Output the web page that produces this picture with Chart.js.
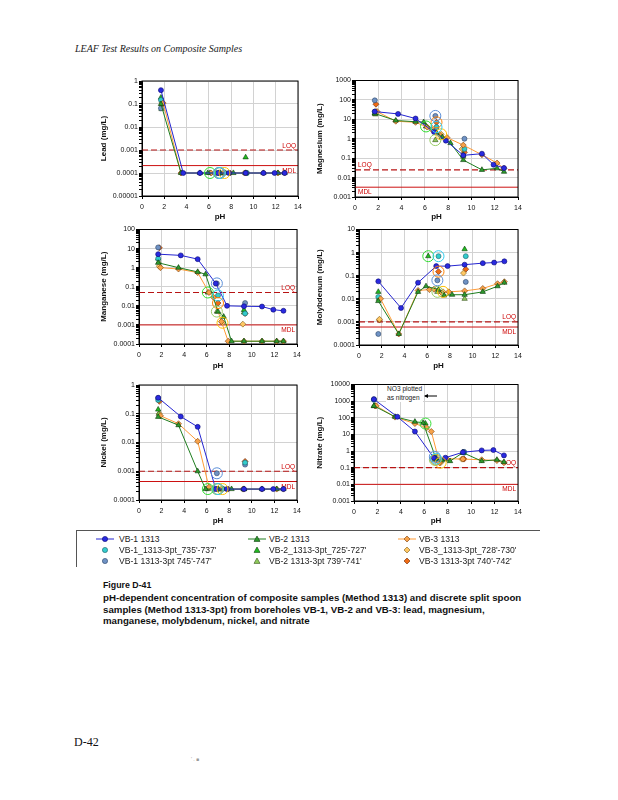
<!DOCTYPE html>
<html>
<head>
<meta charset="utf-8">
<script src="https://cdn.jsdelivr.net/npm/chart.js@4.4.0/dist/chart.umd.min.js"></script>
<style>
  body { margin: 0; background: #fff; width: 618px; height: 800px; position: relative; overflow: hidden; font-family: "Liberation Sans", Arial, sans-serif; }
  canvas { position: absolute; }
  .abs { position: absolute; white-space: nowrap; }
  .header { left: 75px; top: 43px; font: italic 10px "Liberation Serif", serif; color: #222; }
  .legtxt { font-size: 8.6px; line-height: 10px; color: #222; }
  .caption { left: 103px; font-weight: bold; font-size: 9.7px; line-height: 11.6px; color: #111; }
  .footer { left: 74px; top: 735px; font: 12px "Liberation Serif", serif; color: #111; }
  .note { left: 386px; top: 385px; padding: 0 1px; font-size: 6.6px; line-height: 8.5px; color: #222; background: #fff; }
</style>
</head>
<body>
<div class="abs header">LEAF Test Results on Composite Samples</div>

<canvas id="cLead" width="210" height="150" style="left:96px;top:74px"></canvas>
<canvas id="cMg" width="214" height="150" style="left:312px;top:74px"></canvas>
<canvas id="cMn" width="210" height="150" style="left:96px;top:223px"></canvas>
<canvas id="cMo" width="214" height="150" style="left:312px;top:223px"></canvas>
<canvas id="cNi" width="210" height="150" style="left:96px;top:378px"></canvas>
<canvas id="cNo3" width="214" height="150" style="left:312px;top:378px"></canvas>

<div class="abs note">NO3 plotted<br>as nitrogen</div>
<svg class="abs" style="left:423px;top:392px" width="15" height="8">
  <line x1="2" y1="4" x2="14" y2="4" stroke="#000" stroke-width="1"/>
  <polygon points="1,4 5,2 5,6" fill="#000"/>
</svg>

<div class="abs" style="left:76px;top:530px;width:464px;height:0;border-top:1px solid #555"></div>
<div class="abs" style="left:76px;top:530px;width:0;height:37px;border-left:1px solid #555"></div>
<div id="legend"></div>

<div class="abs caption" style="top:580px;font-size:8.8px">Figure D-41</div>
<div class="abs caption" style="top:592px">pH-dependent concentration of composite samples (Method 1313) and discrete split spoon<br>samples (Method 1313-3pt) from boreholes VB-1, VB-2 and VB-3: lead, magnesium,<br>manganese, molybdenum, nickel, and nitrate</div>

<div class="abs footer">D-42</div>
<div class="abs" style="left:191px;top:756px;font-size:5px;color:#999">' . ■</div>

<script>
// pH of each extract (same extracts for every analyte)
const phVB1 = [1.7, 3.7, 5.2, 6.8, 7.8, 9.3, 10.9, 11.9, 12.8];
const phVB2 = [1.7, 3.5, 5.2, 5.9, 7.0, 7.5, 8.2, 9.3, 10.9, 12.2, 12.8];
const phVB3 = [1.9, 3.5, 5.2, 6.2, 6.6, 7.3, 7.9, 9.3, 10.9, 12.2, 12.8];
// 3pt samples: low pH, natural pH, high pH (same order as pointSeries)
const ph3pt = [[1.7, 7.0, 9.4], [1.7, 6.9, 9.4], [1.7, 6.1, 9.3], [1.75, 6.9, 9.3], [1.8, 7.4, 9.2], [1.8, 7.0, 9.4]];

const xTicks = [0, 2, 4, 6, 8, 10, 12, 14];

// Lead
const leadVB1 = [0.4, 0.0001, 0.0001, 0.0001, 0.0001, 0.0001, 0.0001, 0.0001, 0.0001];
const leadVB2 = [0.1, 0.0001, 0.0001, 0.0001, 0.0001, 0.0001, 0.0001, 0.0001, 0.0001, 0.0001, 0.0001];
const leadVB3 = [0.11, 0.0001, 0.0001, 0.0001, 0.0001, 0.0001, 0.0001, 0.0001, 0.0001, 0.0001, 0.0001];
const lead3pt = [[0.15, 0.0001, 0.0001], [0.065, 0.0001, 0.0001], [0.19, 0.0001, 0.00048], [0.06, 0.0001, 0.0001], [0.12, 0.0001, 0.0001], [0.09, 0.0001, 0.0001]];
const leadLimits = [0.001, 0.00021];

// Magnesium
const mgVB1 = [25, 19, 11, 2.2, 0.8, 0.14, 0.17, 0.046, 0.031];
const mgVB2 = [20, 8.7, 7.5, 7.2, 2.0, 1.2, 0.6, 0.08, 0.025, 0.03, 0.02];
const mgVB3 = [25, 8, 7, 4, 3, 1.5, 1.15, 0.47, 0.15, 0.056, 0.03];
const mg3pt = [[25, 4, 0.3], [95, 15, 1.0], [20, 4.3, 0.15], [18, 0.85, 0.12], [25, 1.7, 0.3], [60, 7, 0.2]];
const mgLimits = [0.025, 0.0032];

// Manganese
const mnVB1 = [5.1, 4.4, 2.8, 0.15, 0.01, 0.0095, 0.0092, 0.0063, 0.0055];
const mnVB2 = [1.8, 1.0, 0.6, 0.45, 0.005, 0.0027, 0.00014, 0.00014, 0.00014, 0.00014, 0.00014];
const mnVB3 = [1.0, 0.85, 0.55, 0.05, 0.028, 0.0015, 0.00014, 0.00014, 0.00014, 0.00014, 0.00014];
const mn3pt = [[3, 0.035, 0.004], [11.5, 0.15, 0.014], [3, 0.05, 0.006], [2, 0.005, 0.0045], [1.2, 0.0013, 0.0011], [11, 0.014, 0.004]];
const mnLimits = [0.05, 0.001];

// Molybdenum
const moVB1 = [0.057, 0.004, 0.05, 0.26, 0.26, 0.30, 0.35, 0.37, 0.42];
const moVB2 = [0.008, 0.0003, 0.02, 0.035, 0.025, 0.014, 0.015, 0.015, 0.02, 0.035, 0.05];
const moVB3 = [0.01, 0.0003, 0.023, 0.025, 0.026, 0.018, 0.02, 0.022, 0.028, 0.045, 0.055];
const mo3pt = [[0.012, 0.7, 0.7], [0.0003, 0.063, 0.054], [0.02, 0.7, 1.4], [0.01, 0.02, 0.01], [0.0013, 0.02, 0.13], [0.0012, 0.15, 0.19]];
const moLimits = [0.001, 0.0006];

// Nickel
const niVB1 = [0.36, 0.08, 0.035, 0.00024, 0.00024, 0.00024, 0.00024, 0.00024, 0.00024];
const niVB2 = [0.078, 0.04, 0.001, 0.00024, 0.00024, 0.00024, 0.00024, 0.00024, 0.00024, 0.00024, 0.00024];
const niVB3 = [0.085, 0.045, 0.011, 0.00028, 0.00024, 0.00024, 0.00024, 0.00024, 0.00024, 0.00024, 0.00024];
const ni3pt = [[0.3, 0.00024, 0.002], [0.35, 0.00085, 0.0017], [0.14, 0.00024, 0.00024], [0.1, 0.00024, 0.00024], [0.1, 0.00024, 0.00024], [0.27, 0.00024, 0.0022]];
const niLimits = [0.001, 0.00044];

// Nitrate
const no3VB1 = [1300, 115, 15, 0.4, 0.4, 0.85, 1.1, 1.15, 0.55];
const no3VB2 = [520, 115, 58, 50, 0.35, 0.28, 0.25, 0.8, 0.25, 0.3, 0.22];
const no3VB3 = [520, 110, 45, 25, 15, 0.2, 0.35, 0.33, 0.3, 0.27, 0.2];
const no33pt = [[1200, 0.35, 0.8], [1300, 0.45, 0.9], [500, 45, 0.8], [520, 0.3, 0.8], [520, 0.2, 0.33], [520, 0.3, 0.33]];
const no3Limits = [0.1, 0.01];

// series looks (shared by charts and legend)
const lineSeries = [
  { label: 'VB-1 1313', line: '#2424D0', fill: '#2A2AE0', edge: '#0A0A70', shape: 'circle' },
  { label: 'VB-2 1313', line: '#1E7D1E', fill: '#2E9B2E', edge: '#083808', shape: 'triangle' },
  { label: 'VB-3 1313', line: '#FF9A35', fill: '#F7A24A', edge: '#7A3E0A', shape: 'rectRot' }
];
const pointSeries = [
  { label: "VB-1_1313-3pt_735'-737'", fill: '#33CCCC', edge: '#1D5F6A', shape: 'circle', ring: '#33CCEE' },
  { label: "VB-1 1313-3pt 745'-747'", fill: '#6F92C4', edge: '#2A4468', shape: 'circle', ring: '#5B8FD8' },
  { label: "VB-2_1313-3pt_725'-727'", fill: '#22BB22', edge: '#0A400A', shape: 'triangle', ring: '#33DD33' },
  { label: "VB-2 1313-3pt 739'-741'", fill: '#8FCB5A', edge: '#34501A', shape: 'triangle', ring: '#99CC66' },
  { label: "VB-3_1313-3pt_728'-730'", fill: '#FFC864', edge: '#7A5A18', shape: 'rectRot', ring: '#FFC000' },
  { label: "VB-3 1313-3pt 740'-742'", fill: '#F06A12', edge: '#6A2806', shape: 'rectRot', ring: '#FF8000' }
];

const FONT = '"Liberation Sans", Arial, sans-serif';
const isDecade = v => Math.abs(Math.log10(v) - Math.round(Math.log10(v))) < 1e-6;
const fmtDecade = v => {
  const e = Math.round(Math.log10(v));
  return e >= 0 ? String(Math.round(v)) : v.toFixed(-e);
};
const markerSize = shape => shape === 'triangle' ? 3.1 : shape === 'rectRot' ? 3.0 : 2.5;

// LOQ / MDL lines, labels and plot frame
const limitPlugin = {
  id: 'limits',
  beforeDatasetsDraw(chart, args, o) {
    const { ctx, chartArea: a } = chart;
    const y = chart.scales.y;
    const yq = y.getPixelForValue(o.limits[0]);
    const ym = y.getPixelForValue(o.limits[1]);
    ctx.save();
    ctx.lineWidth = 1.2;
    ctx.strokeStyle = '#B81414';
    ctx.setLineDash([6, 3]);
    ctx.beginPath(); ctx.moveTo(a.left, yq); ctx.lineTo(a.right, yq); ctx.stroke();
    ctx.setLineDash([]);
    ctx.lineWidth = 1;
    ctx.strokeStyle = '#CC1010';
    ctx.beginPath(); ctx.moveTo(a.left, ym); ctx.lineTo(a.right, ym); ctx.stroke();

    ctx.fillStyle = '#CC0000';
    ctx.font = '6.5px ' + FONT;
    const x = o.side === 'left' ? a.left + 3 : a.right - 2;
    ctx.textAlign = o.side === 'left' ? 'left' : 'right';
    ctx.textBaseline = 'bottom';
    ctx.fillText('LOQ', x, yq - 1);
    ctx.textBaseline = 'top';
    ctx.fillText('MDL', x, ym + 2);

    ctx.strokeStyle = '#000';
    ctx.lineWidth = 1;
    ctx.strokeRect(a.left, a.top, a.right - a.left, a.bottom - a.top);
    ctx.restore();
  }
};

function buildDatasets(v1, v2, v3, pts) {
  const sets = [];
  // rings around the natural-pH point of each 3pt sample
  pointSeries.forEach((s, i) => {
    sets.push({
      data: [{ x: ph3pt[i][1], y: pts[i][1] }],
      showLine: false, pointStyle: 'circle', pointRadius: 5.5,
      pointBackgroundColor: 'rgba(0,0,0,0)', pointBorderColor: s.ring, pointBorderWidth: 1
    });
  });
  [[phVB1, v1], [phVB2, v2], [phVB3, v3]].forEach(([xs, ys], i) => {
    const s = lineSeries[i];
    sets.push({
      data: xs.map((x, k) => ({ x, y: ys[k] })),
      showLine: true, borderColor: s.line, borderWidth: 1,
      pointStyle: s.shape, pointRadius: markerSize(s.shape),
      pointBackgroundColor: s.fill, pointBorderColor: s.edge, pointBorderWidth: 0.6
    });
  });
  pointSeries.forEach((s, i) => {
    sets.push({
      data: ph3pt[i].map((x, k) => ({ x, y: pts[i][k] })),
      showLine: false, pointStyle: s.shape, pointRadius: markerSize(s.shape),
      pointBackgroundColor: s.fill, pointBorderColor: s.edge, pointBorderWidth: 0.6
    });
  });
  return sets;
}

function makeChart(id, c) {
  new Chart(document.getElementById(id), {
    type: 'scatter',
    data: { datasets: buildDatasets(c.v1, c.v2, c.v3, c.pts) },
    options: {
      responsive: false,
      animation: false,
      events: [],
      layout: { padding: { top: c.pt, right: c.pr, left: 0, bottom: 0 } },
      plugins: { legend: { display: false }, tooltip: { enabled: false }, limits: { limits: c.limits, side: c.side || 'right' } },
      scales: {
        x: {
          type: 'linear', min: 0, max: 14,
          afterBuildTicks: s => { s.ticks = xTicks.map(v => ({ value: v })); },
          ticks: { font: { size: 7, family: FONT }, color: '#111', padding: 4, maxRotation: 0 },
          grid: { color: '#D2D2D2', tickColor: '#000', tickLength: 3 },
          border: { color: '#000' },
          title: { display: true, text: 'pH', font: { size: 8, weight: 'bold', family: FONT }, color: '#111', padding: { top: 0, bottom: 2.5 } },
          afterFit: s => { s.height = c.xh; }
        },
        y: {
          type: 'logarithmic', min: c.min, max: c.max,
          afterBuildTicks: s => {
            const t = [];
            for (let e = Math.round(Math.log10(c.min)); e < Math.round(Math.log10(c.max)); e++) {
              for (let k = 1; k < 10; k++) t.push({ value: +(k * Math.pow(10, e)).toPrecision(3) });
            }
            t.push({ value: c.max });
            s.ticks = t;
          },
          ticks: {
            autoSkip: false, font: { size: 7, family: FONT }, color: '#111', padding: 1,
            callback: v => isDecade(v) ? fmtDecade(v) : ''
          },
          grid: {
            color: ctx => ctx.tick && isDecade(ctx.tick.value) ? '#D2D2D2' : 'rgba(0,0,0,0)',
            tickColor: '#000', tickLength: 3
          },
          border: { color: '#000' },
          title: { display: true, text: c.title, font: { size: 8, weight: 'bold', family: FONT }, color: '#111', padding: { top: 2.5, bottom: 0 } },
          afterFit: s => { s.width = c.yw; }
        }
      }
    },
    plugins: [limitPlugin]
  });
}

makeChart('cLead', { title: 'Lead (mg/L)', min: 0.00001, max: 1, v1: leadVB1, v2: leadVB2, v3: leadVB3, pts: lead3pt, limits: leadLimits, yw: 46, xh: 28, pt: 7, pr: 8 });
makeChart('cMg', { title: 'Magnesium (mg/L)', min: 0.001, max: 1000, v1: mgVB1, v2: mgVB2, v3: mgVB3, pts: mg3pt, limits: mgLimits, side: 'left', yw: 43, xh: 27, pt: 6, pr: 8 });
makeChart('cMn', { title: 'Manganese (mg/L)', min: 0.0001, max: 100, v1: mnVB1, v2: mnVB2, v3: mnVB3, pts: mn3pt, limits: mnLimits, yw: 43, xh: 29, pt: 6, pr: 9 });
makeChart('cMo', { title: 'Molybdenum (mg/L)', min: 0.0001, max: 10, v1: moVB1, v2: moVB2, v3: moVB3, pts: mo3pt, limits: moLimits, yw: 47, xh: 28, pt: 6, pr: 8 });
makeChart('cNi', { title: 'Nickel (mg/L)', min: 0.0001, max: 1, v1: niVB1, v2: niVB2, v3: niVB3, pts: ni3pt, limits: niLimits, yw: 43, xh: 28, pt: 7, pr: 9 });
makeChart('cNo3', { title: 'Nitrate (mg/L)', min: 0.001, max: 10000, v1: no3VB1, v2: no3VB2, v3: no3VB3, pts: no33pt, limits: no3Limits, yw: 42, xh: 27, pt: 6, pr: 8 });

// shared legend below the charts
function shapeSvg(s, cx) {
  if (s.shape === 'circle') return `<circle cx="${cx}" cy="4" r="2.6" fill="${s.fill}" stroke="${s.edge}" stroke-width="0.6"/>`;
  if (s.shape === 'triangle') return `<polygon points="${cx},1 ${cx + 3},6.4 ${cx - 3},6.4" fill="${s.fill}" stroke="${s.edge}" stroke-width="0.6"/>`;
  return `<polygon points="${cx},1 ${cx + 3},4 ${cx},7 ${cx - 3},4" fill="${s.fill}" stroke="${s.edge}" stroke-width="0.6"/>`;
}
const legCx = [105, 256.5, 406.5];
const legTx = [119, 269, 419];
const legRowY = [539, 550, 561];
const legend = document.getElementById('legend');
let html = '';
lineSeries.forEach((s, i) => {
  html += `<svg class="abs" style="left:${legCx[i] - 9}px;top:${legRowY[0] - 4}px" width="18" height="8">` +
    `<line x1="0" y1="4" x2="18" y2="4" stroke="${s.line}" stroke-width="1"/>${shapeSvg(s, 9)}</svg>`;
  html += `<div class="abs legtxt" style="left:${legTx[i]}px;top:${legRowY[0] - 5}px">${s.label}</div>`;
});
pointSeries.forEach((s, i) => {
  const col = Math.floor(i / 2), row = 1 + (i % 2);
  html += `<svg class="abs" style="left:${legCx[col] - 4}px;top:${legRowY[row] - 4}px" width="8" height="8">${shapeSvg(s, 4)}</svg>`;
  html += `<div class="abs legtxt" style="left:${legTx[col]}px;top:${legRowY[row] - 5}px">${s.label}</div>`;
});
legend.innerHTML = html;
</script>
</body>
</html>
